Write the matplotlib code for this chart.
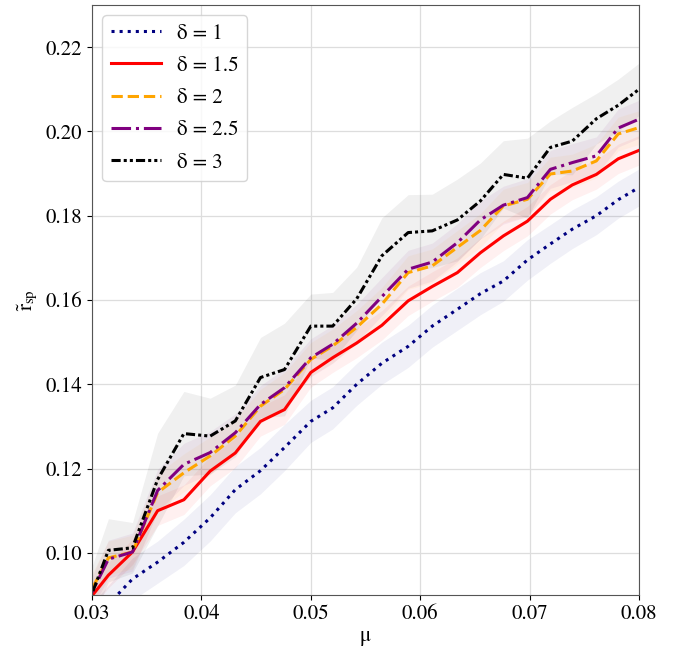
import matplotlib
matplotlib.use("Agg")
import matplotlib.pyplot as plt
import numpy as np

# ── Style ──────────────────────────────────────────────────────────────────── #
plt.rcParams.update({
    "font.family":      "STIXGeneral",
    "mathtext.fontset": "stix",
    "font.size":        15,
    "axes.edgecolor":   "#555555",
})

# ── Data ───────────────────────────────────────────────────────────────────── #
mu = np.array([0.0293, 0.0315, 0.0337, 0.0360, 0.0384, 0.0408, 0.0431, 0.0454,
               0.0476, 0.0500, 0.0520, 0.0542, 0.0565, 0.0589, 0.0611, 0.0634,
               0.0655, 0.0676, 0.0698, 0.0719, 0.0739, 0.0761, 0.0781, 0.0800])

r_d1 = [0.0820, 0.0878, 0.0938, 0.0978, 0.1025, 0.1083, 0.1150, 0.1195,
        0.1250, 0.1312, 0.1344, 0.1400, 0.1450, 0.1490, 0.1538, 0.1578,
        0.1615, 0.1645, 0.1695, 0.1733, 0.1768, 0.1800, 0.1838, 0.1867]
r_d15 = [0.0875, 0.0947, 0.1002, 0.1100, 0.1126, 0.1194, 0.1237, 0.1312,
         0.1340, 0.1428, 0.1463, 0.1498, 0.1540, 0.1598, 0.1632, 0.1665,
         0.1712, 0.1752, 0.1787, 0.1839, 0.1873, 0.1898, 0.1935, 0.1955]
r_d2 = [0.0880, 0.0988, 0.1002, 0.1143, 0.1190, 0.1230, 0.1277, 0.1348,
        0.1388, 0.1459, 0.1491, 0.1535, 0.1590, 0.1665, 0.1681, 0.1725,
        0.1765, 0.1823, 0.1839, 0.1899, 0.1906, 0.1930, 0.1994, 0.2009]
r_d25 = [0.0870, 0.0985, 0.1002, 0.1148, 0.1210, 0.1238, 0.1285, 0.1352,
         0.1392, 0.1463, 0.1495, 0.1545, 0.1608, 0.1673, 0.1690, 0.1736,
         0.1790, 0.1825, 0.1843, 0.1910, 0.1926, 0.1942, 0.2008, 0.2029]
r_d3 = [0.0855, 0.1006, 0.1012, 0.1174, 0.1283, 0.1277, 0.1313, 0.1416,
        0.1435, 0.1538, 0.1538, 0.1603, 0.1705, 0.1760, 0.1764, 0.1790,
        0.1835, 0.1898, 0.1889, 0.1962, 0.1977, 0.2030, 0.2062, 0.2100]

# spread (half-width of the shaded band) for each delta
s_d1 = [0.0040, 0.0045, 0.0050, 0.0050, 0.0055, 0.0055, 0.0055, 0.0055,
        0.0055, 0.0050, 0.0050, 0.0050, 0.0050, 0.0050, 0.0050, 0.0050,
        0.0050, 0.0048, 0.0048, 0.0046, 0.0046, 0.0045, 0.0044, 0.0044]
s_d15 = [0.0030, 0.0030, 0.0030, 0.0035, 0.0035, 0.0035, 0.0035, 0.0035,
         0.0035, 0.0035, 0.0035, 0.0035, 0.0035, 0.0035, 0.0035, 0.0035,
         0.0035, 0.0035, 0.0035, 0.0035, 0.0035, 0.0035, 0.0035, 0.0035]
s_d2 = [0.0035, 0.0040, 0.0040, 0.0045, 0.0045, 0.0045, 0.0040, 0.0040,
        0.0040, 0.0040, 0.0040, 0.0040, 0.0040, 0.0040, 0.0040, 0.0040,
        0.0040, 0.0040, 0.0040, 0.0040, 0.0040, 0.0040, 0.0040, 0.0040]
s_d25 = [0.0035, 0.0045, 0.0045, 0.0050, 0.0050, 0.0050, 0.0045, 0.0045,
         0.0045, 0.0045, 0.0045, 0.0045, 0.0045, 0.0045, 0.0045, 0.0045,
         0.0045, 0.0045, 0.0045, 0.0045, 0.0045, 0.0045, 0.0045, 0.0045]
s_d3 = [0.0060, 0.0075, 0.0060, 0.0110, 0.0100, 0.0090, 0.0085, 0.0095,
        0.0110, 0.0076, 0.0080, 0.0075, 0.0090, 0.0090, 0.0087, 0.0097,
        0.0090, 0.0080, 0.0095, 0.0063, 0.0080, 0.0060, 0.0062, 0.0062]

labels = ["δ = 1", "δ = 1.5", "δ = 2", "δ = 2.5", "δ = 3"]

series = [
    (r_d1,  s_d1,  "navy",   ":"),
    (r_d15, s_d15, "red",    "-"),
    (r_d2,  s_d2,  "orange", "--"),
    (r_d25, s_d25, "purple", "-."),
    (r_d3,  s_d3,  "black",  (0, (3, 1, 1, 1, 1, 1))),
]

# ── Plot ───────────────────────────────────────────────────────────────────── #
fig = plt.figure(figsize=(6.86, 6.48), dpi=100)
ax = fig.add_axes([0.1341, 0.0818, 0.7974, 0.9105])

for (vals, spread, color, ls), label in zip(series, labels):
    vals = np.asarray(vals)
    spread = np.asarray(spread)
    ax.fill_between(mu, vals - spread, vals + spread, color=color,
                    alpha=0.06, linewidth=0)
    ax.plot(mu, vals, color=color, linestyle=ls, linewidth=2.2, label=label)

ax.set_xlim(0.03, 0.08)
ax.set_ylim(0.09, 0.23)
ax.set_xticks([0.03, 0.04, 0.05, 0.06, 0.07, 0.08])
ax.set_yticks([0.10, 0.12, 0.14, 0.16, 0.18, 0.20, 0.22])
ax.set_xticklabels(["0.03", "0.04", "0.05", "0.06", "0.07", "0.08"])
ax.set_yticklabels(["0.10", "0.12", "0.14", "0.16", "0.18", "0.20", "0.22"])
ax.grid(True, color="#dddddd", linewidth=0.9)
ax.set_axisbelow(True)

ax.set_xlabel("μ", labelpad=1)
ax.set_ylabel(r"$\tilde{\mathrm{r}}_{\mathrm{sp}}$")

ax.legend(loc="upper left", handlelength=2.4, fontsize=15, labelspacing=0.6)

fig.savefig("out.png", dpi=100)
